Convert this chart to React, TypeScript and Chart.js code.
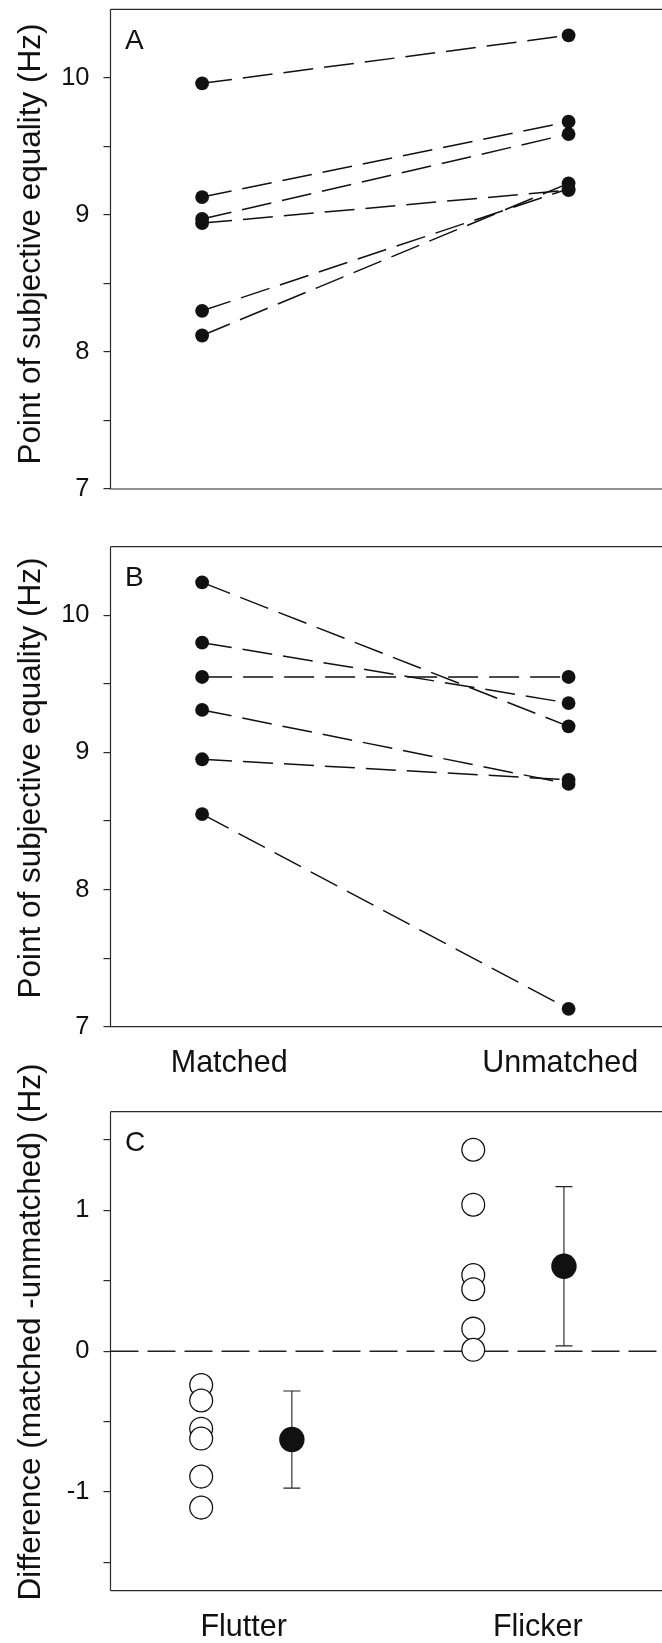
import React, { useEffect, useRef } from "react";
import { Chart, registerables } from "chart.js";

Chart.register(...registerables);

// ---------- data ----------
const conditions = ["Matched", "Unmatched"];
const groups = ["Flutter", "Flicker"];

// Panel A (flutter): PSE in matched / unmatched condition, one pair per subject
const panelAMatched = [9.96, 9.13, 8.97, 8.94, 8.3, 8.12];
const panelAUnmatched = [10.31, 9.68, 9.59, 9.18, 9.19, 9.23];

// Panel B (flicker)
const panelBMatched = [10.24, 9.8, 9.55, 9.31, 8.95, 8.55];
const panelBUnmatched = [9.19, 9.36, 9.55, 8.77, 8.8, 7.13];

// Panel C: differences (matched - unmatched) per subject, group mean and error
const flutterDiffs = [-0.24, -0.35, -0.55, -0.62, -0.89, -1.11];
const flickerDiffs = [1.43, 1.04, 0.54, 0.44, 0.16, 0.01];
const groupMeans = [-0.627, 0.603];
const groupErrors = [0.345, 0.565];

// tick values
const pseTicks = [7, 7.5, 8, 8.5, 9, 9.5, 10];
const diffTicks = [-1.5, -1, -0.5, 0, 0.5, 1, 1.5];

// ---------- layout ----------
const W = 662; // visible page width
const CW = 690; // canvas width (plot box runs past the right edge of the picture)
const H = 1643;
const FONT = '"Liberation Sans", Arial, Helvetica, sans-serif';
const INK = "#111111";
const AXIS = "#2a2a2a";
const X_MIN = 0.75;
const X_MAX = 2.3125;
const CONDITION_X = [1, 2];
const CONDITION_LABEL_X = [1.074, 1.977];
const GROUP_OPEN_X = [1, 1.75];
const GROUP_MEAN_X = [1.25, 2];
const GROUP_LABEL_X = [1.117, 1.928];

type PanelCfg = {
  key: string;
  letter: string;
  top: number;
  bottom: number;
  yMin: number;
  yMax: number;
  yTicks: number[];
  title: string;
  titleY: number;
  xLabels: string[] | null;
  xLabelPos: number[];
  kind: "pairs" | "diff";
  matched?: number[];
  unmatched?: number[];
};

const panels: PanelCfg[] = [
  {
    key: "A",
    letter: "A",
    top: 9.3,
    bottom: 489,
    yMin: 7,
    yMax: 10.5,
    yTicks: pseTicks,
    title: "Point of subjective equality (Hz)",
    titleY: 244,
    xLabels: null,
    xLabelPos: CONDITION_LABEL_X,
    kind: "pairs",
    matched: panelAMatched,
    unmatched: panelAUnmatched,
  },
  {
    key: "B",
    letter: "B",
    top: 546.7,
    bottom: 1026.7,
    yMin: 7,
    yMax: 10.5,
    yTicks: pseTicks,
    title: "Point of subjective equality (Hz)",
    titleY: 778,
    xLabels: conditions,
    xLabelPos: CONDITION_LABEL_X,
    kind: "pairs",
    matched: panelBMatched,
    unmatched: panelBUnmatched,
  },
  {
    key: "C",
    letter: "C",
    top: 1111.7,
    bottom: 1590.7,
    yMin: -1.7,
    yMax: 1.7,
    yTicks: diffTicks,
    title: "Difference (matched -unmatched) (Hz)",
    titleY: 1332,
    xLabels: groups,
    xLabelPos: GROUP_LABEL_X,
    kind: "diff",
  },
];

function buildDatasets(cfg: PanelCfg): any[] {
  if (cfg.kind === "pairs") {
    const m = cfg.matched!;
    const u = cfg.unmatched!;
    return m.map((v, i) => ({
      data: [
        { x: CONDITION_X[0], y: v },
        { x: CONDITION_X[1], y: u[i] },
      ],
      showLine: true,
      borderColor: INK,
      borderWidth: 1.5,
      borderDash: [30, 11],
      pointRadius: 6.9,
      pointBackgroundColor: INK,
      pointBorderColor: INK,
      pointBorderWidth: 0,
    }));
  }
  const open = (vals: number[], x: number) => ({
    data: vals.map((y) => ({ x, y })),
    showLine: false,
    pointRadius: 11.4,
    pointBackgroundColor: "#ffffff",
    pointBorderColor: INK,
    pointBorderWidth: 1.3,
  });
  return [
    open(flutterDiffs, GROUP_OPEN_X[0]),
    open(flickerDiffs, GROUP_OPEN_X[1]),
    {
      data: groupMeans.map((y, i) => ({ x: GROUP_MEAN_X[i], y })),
      showLine: false,
      pointRadius: 12.7,
      pointBackgroundColor: INK,
      pointBorderColor: INK,
      pointBorderWidth: 0,
    },
  ];
}

function makeDecor(cfg: PanelCfg) {
  return {
    id: "decor" + cfg.key,
    beforeDatasetsDraw(chart: any) {
      const { ctx, chartArea: a, scales } = chart;
      ctx.save();
      // frame: top, left, bottom (right side is off the picture)
      ctx.strokeStyle = AXIS;
      ctx.lineWidth = 1.2;
      ctx.setLineDash([]);
      ctx.beginPath();
      ctx.moveTo(a.left, a.top);
      ctx.lineTo(a.right, a.top);
      ctx.stroke();
      ctx.beginPath();
      ctx.moveTo(a.left, a.top);
      ctx.lineTo(a.left, a.bottom);
      ctx.stroke();
      ctx.beginPath();
      ctx.moveTo(a.left, a.bottom);
      ctx.lineTo(a.right, a.bottom);
      ctx.stroke();

      if (cfg.kind === "diff") {
        const y0 = scales.y.getPixelForValue(0);
        ctx.strokeStyle = "#222";
        ctx.lineWidth = 1.4;
        ctx.setLineDash([28, 9]);
        ctx.beginPath();
        ctx.moveTo(a.left, y0);
        ctx.lineTo(a.right, y0);
        ctx.stroke();
        ctx.setLineDash([]);

        // error bars
        ctx.strokeStyle = "#222";
        ctx.lineWidth = 1.1;
        groupMeans.forEach((m, i) => {
          const x = scales.x.getPixelForValue(GROUP_MEAN_X[i]);
          const yt = scales.y.getPixelForValue(m + groupErrors[i]);
          const yb = scales.y.getPixelForValue(m - groupErrors[i]);
          const cap = 8.5;
          ctx.beginPath();
          ctx.moveTo(x, yt);
          ctx.lineTo(x, yb);
          ctx.moveTo(x - cap, yt);
          ctx.lineTo(x + cap, yt);
          ctx.moveTo(x - cap, yb);
          ctx.lineTo(x + cap, yb);
          ctx.stroke();
        });
      }
      ctx.restore();
    },
    afterDraw(chart: any) {
      const { ctx, chartArea: a } = chart;
      ctx.save();
      ctx.fillStyle = INK;
      // panel letter
      ctx.font = `28px ${FONT}`;
      ctx.textAlign = "left";
      ctx.textBaseline = "alphabetic";
      ctx.fillText(cfg.letter, a.left + 14.5, a.top + 39.3);
      // y axis title
      ctx.font = `31.5px ${FONT}`;
      ctx.translate(40, cfg.titleY);
      ctx.rotate(-Math.PI / 2);
      ctx.textAlign = "center";
      ctx.textBaseline = "alphabetic";
      ctx.fillText(cfg.title, 0, 0);
      ctx.restore();
    },
  };
}

function buildConfig(cfg: PanelCfg): any {
  return {
    type: "scatter",
    data: { datasets: buildDatasets(cfg) },
    plugins: [makeDecor(cfg)],
    options: {
      responsive: false,
      maintainAspectRatio: false,
      animation: false,
      events: [],
      layout: { padding: { top: cfg.top, left: 0, right: 0, bottom: 0 } },
      plugins: {
        legend: { display: false },
        tooltip: { enabled: false },
        title: { display: false },
      },
      scales: {
        x: {
          type: "linear",
          position: "bottom",
          min: X_MIN,
          max: X_MAX,
          grid: { display: false, drawTicks: false },
          border: { display: false },
          afterFit: (s: any) => {
            s.height = H - cfg.bottom;
            s.paddingLeft = 0;
            s.paddingRight = 0;
            s.paddingTop = 0;
            s.paddingBottom = 0;
          },
          afterBuildTicks: (s: any) => {
            s.ticks = cfg.xLabelPos.map((v) => ({ value: v }));
          },
          ticks: {
            display: !!cfg.xLabels,
            padding: 18.5,
            autoSkip: false,
            maxRotation: 0,
            minRotation: 0,
            color: INK,
            font: { family: FONT, size: 30.5 },
            callback: (_v: any, i: number) => (cfg.xLabels ? cfg.xLabels[i] : ""),
          },
        },
        y: {
          type: "linear",
          position: "left",
          min: cfg.yMin,
          max: cfg.yMax,
          grid: {
            display: true,
            drawOnChartArea: false,
            drawTicks: true,
            tickLength: 7,
            color: AXIS,
            lineWidth: 1.2,
          },
          border: { display: false },
          afterFit: (s: any) => {
            s.width = 110.5;
            s.paddingLeft = 0;
            s.paddingRight = 0;
            s.paddingTop = 0;
            s.paddingBottom = 0;
          },
          afterBuildTicks: (s: any) => {
            s.ticks = cfg.yTicks.map((v) => ({ value: v }));
          },
          ticks: {
            autoSkip: false,
            crossAlign: "near",
            padding: 14,
            color: INK,
            font: { family: FONT, size: 25.5 },
            callback: (v: any) => (Number.isInteger(v) ? String(v) : ""),
          },
        },
      },
    },
  };
}

function Panel({ cfg }: { cfg: PanelCfg }) {
  const ref = useRef<HTMLCanvasElement | null>(null);
  useEffect(() => {
    if (!ref.current) return;
    const chart = new Chart(ref.current, buildConfig(cfg));
    return () => chart.destroy();
  }, [cfg]);
  return (
    <canvas
      ref={ref}
      width={CW}
      height={H}
      style={{ position: "absolute", left: 0, top: 0, width: CW, height: H, display: "block" }}
    />
  );
}

export default function App() {
  return (
    <div
      style={{
        position: "absolute",
        left: 0,
        top: 0,
        width: W,
        height: H,
        background: "#ffffff",
        overflow: "hidden",
      }}
    >
      {panels.map((p) => (
        <Panel key={p.key} cfg={p} />
      ))}
    </div>
  );
}
